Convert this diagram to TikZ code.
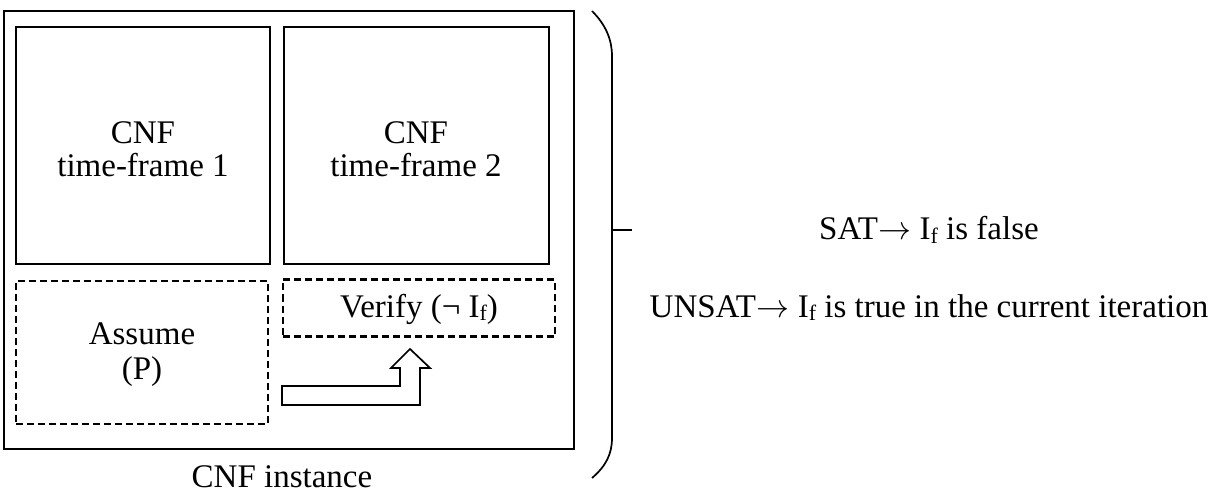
\RequirePackage{fix-cm}
\documentclass[tikz,border=0pt]{standalone}
\usepackage{fontspec}
\setmainfont{Liberation Serif}
\newcommand{\If}{I\raisebox{-0.22ex}{\fontsize{22}{22}\selectfont f}}
\newcommand{\myarr}{\kern0.5pt$\rightarrow$}
\begin{document}
\begin{tikzpicture}[x=1pt,y=-1pt,
  every node/.style={font=\fontsize{33}{33}\selectfont, inner sep=0pt},
  solidbox/.style={draw, line width=1.7pt},
  dashbox/.style={draw, line width=2.5pt, dash pattern=on 7pt off 4pt},
  txt/.style={align=center, anchor=base}]
\useasboundingbox (0,0) rectangle (1212,494);
\node[solidbox, minimum width=570pt, minimum height=438pt] (outer) at (289,230) {};
\node[solidbox, minimum width=254pt, minimum height=237pt] (tf1) at (143,145.5) {};
\node[solidbox, minimum width=265pt, minimum height=237pt] (tf2) at (416.5,145.5) {};
\node[dashbox, minimum width=252pt, minimum height=143pt] (assume) at (142,352.5) {};
\node[dashbox, minimum width=272pt, minimum height=57pt] (verify) at (419,308) {};
\node[txt] (t1) at (143,177) {CNF\\time-frame 1};
\node[txt] (t2) at (416,177) {CNF\\time-frame 2};
\node[txt] (ta) at (142,379) {Assume\\[2pt](P)};
\node[txt] (tv) at (419,317) {Verify (¬ \If)};
\node[txt] (inst) at (282,487) {CNF instance};
\node[txt] (sat) at (929,240) {SAT\myarr\ \If\ is false};
\node[txt] (unsat) at (929,317) {UNSAT\myarr\ \If\ is true in the current iteration};
% block arrow from Assume to Verify
\draw[line width=1.7pt, line join=miter]
  (282,386) -- (400,386) -- (400,368) -- (391,368) -- (410,349) -- (430,368)
  -- (420,368) -- (420,405) -- (282,405) -- cycle;
% brace
\draw[line width=1.7pt]
  (592,11) .. controls (606,25) and (612,40) .. (612,56) -- (612,438)
  .. controls (612,454) and (606,466) .. (592,478);
\draw[line width=1.7pt] (612,230) -- (632,230);
\end{tikzpicture}
\end{document}
